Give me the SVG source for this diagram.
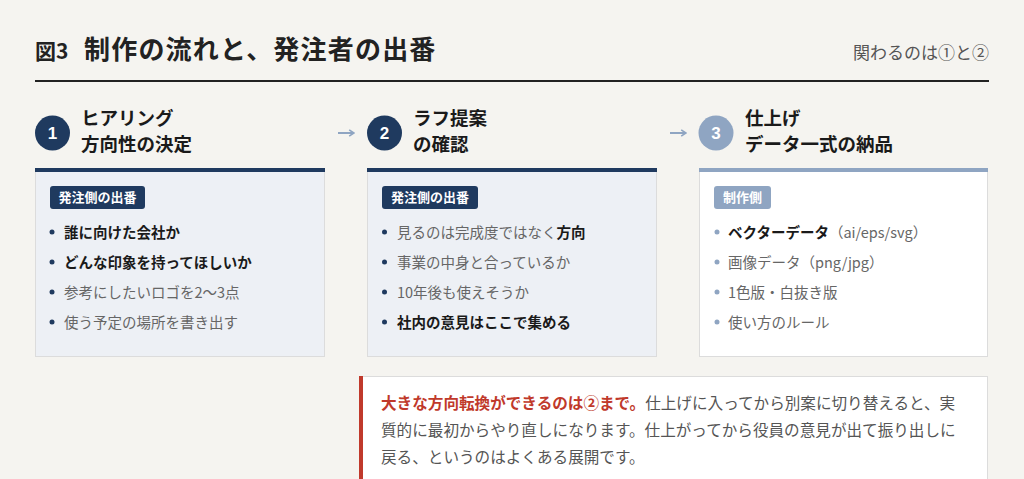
<svg xmlns="http://www.w3.org/2000/svg" width="1024" height="479" viewBox="0 0 1024 479">
<style>
text{font-family:"Noto Sans CJK JP","Noto Sans",sans-serif}
.title{font-size:26px;font-weight:700;fill:#222;letter-spacing:1.2px}
.fig{font-size:21px;font-weight:700;fill:#222}
.aside{font-size:17px;fill:#555}
.step{font-size:18.5px;font-weight:700;fill:#1a1a1a}
.num{font-size:17px;font-weight:700;fill:#fff;text-anchor:middle;font-family:"Liberation Sans",sans-serif}
.badge{font-size:13px;font-weight:700;fill:#fff;text-anchor:middle}
.li{font-size:14.5px;fill:#666}
.b{font-weight:700;fill:#1a1a1a}
.note{font-size:15.6px;fill:#555}
.red{font-weight:700;fill:#c0392b}
.card{stroke:#dcdcdc;stroke-width:1}
.navy{fill:#1f3a5f}
.pale{fill:#8fa5c2}
.conn{stroke:#8fa5c2;stroke-width:2;fill:none;marker-end:url(#ah)}
</style>
<defs>
<marker id="ah" viewBox="0 0 10 10" refX="9" refY="5" markerWidth="4" markerHeight="4" orient="auto" markerUnits="strokeWidth">
<path d="M3,1 L9,5 L3,9" fill="none" stroke="#8fa5c2" stroke-width="2"/>
</marker>
</defs>
<rect width="1024" height="479" fill="#f5f4f0"/>
<g id="header">
<text x="35" y="59" class="fig">図3</text>
<text x="84" y="59" class="title">制作の流れと、発注者の出番</text>
<text x="989" y="59" class="aside" text-anchor="end">関わるのは①と②</text>
<rect x="35" y="80" width="954" height="2" fill="#222"/>
</g>
<g id="connectors">
<path class="conn" d="M338,133 H354"/>
<path class="conn" d="M670,133 H686"/>
</g>
<g id="step1">
<circle cx="52.5" cy="133" r="17.5" class="navy"/>
<text x="52.5" y="139" class="num">1</text>
<text x="81" y="125" class="step">ヒアリング</text>
<text x="81" y="151" class="step">方向性の決定</text>
<rect x="35.5" y="168.5" width="289" height="188" fill="#edf0f5" class="card"/>
<rect x="35" y="168" width="290" height="4" class="navy"/>
<rect x="50" y="186" width="95" height="23" rx="3" class="navy"/>
<text x="97.5" y="202" class="badge">発注側の出番</text>
<circle cx="52" cy="232" r="2.5" class="navy"/>
<circle cx="52" cy="262" r="2.5" class="navy"/>
<circle cx="52" cy="292" r="2.5" class="navy"/>
<circle cx="52" cy="322" r="2.5" class="navy"/>
<text x="64" y="237.5" class="li b">誰に向けた会社か</text>
<text x="64" y="267.5" class="li b">どんな印象を持ってほしいか</text>
<text x="64" y="297.5" class="li">参考にしたいロゴを2〜3点</text>
<text x="64" y="327.5" class="li">使う予定の場所を書き出す</text>
</g>
<g id="step2">
<circle cx="384.5" cy="133" r="17.5" class="navy"/>
<text x="384.5" y="139" class="num">2</text>
<text x="413" y="125" class="step">ラフ提案</text>
<text x="413" y="151" class="step">の確認</text>
<rect x="367.5" y="168.5" width="289" height="188" fill="#edf0f5" class="card"/>
<rect x="367" y="168" width="290" height="4" class="navy"/>
<rect x="382" y="186" width="96" height="23" rx="3" class="navy"/>
<text x="430" y="202" class="badge">発注側の出番</text>
<circle cx="384.5" cy="232" r="2.5" class="navy"/>
<circle cx="384.5" cy="262" r="2.5" class="navy"/>
<circle cx="384.5" cy="292" r="2.5" class="navy"/>
<circle cx="384.5" cy="322" r="2.5" class="navy"/>
<text x="397" y="237.5" class="li">見るのは完成度ではなく<tspan class="b">方向</tspan></text>
<text x="397" y="267.5" class="li">事業の中身と合っているか</text>
<text x="397" y="297.5" class="li">10年後も使えそうか</text>
<text x="397" y="327.5" class="li b">社内の意見はここで集める</text>
</g>
<g id="step3">
<circle cx="716" cy="133" r="17.5" class="pale"/>
<text x="716" y="139" class="num">3</text>
<text x="745" y="125" class="step">仕上げ</text>
<text x="745" y="151" class="step">データ一式の納品</text>
<rect x="699.5" y="168.5" width="288" height="188" fill="#ffffff" class="card"/>
<rect x="699" y="168" width="289" height="4" class="pale"/>
<rect x="714" y="186" width="57" height="23" rx="3" class="pale"/>
<text x="742.5" y="202" class="badge">制作側</text>
<circle cx="717" cy="232" r="2.5" class="pale"/>
<circle cx="717" cy="262" r="2.5" class="pale"/>
<circle cx="717" cy="292" r="2.5" class="pale"/>
<circle cx="717" cy="322" r="2.5" class="pale"/>
<text x="728" y="237.5" class="li"><tspan class="b">ベクターデータ</tspan>（ai/eps/svg）</text>
<text x="728" y="267.5" class="li">画像データ（png/jpg）</text>
<text x="728" y="297.5" class="li">1色版・白抜き版</text>
<text x="728" y="327.5" class="li">使い方のルール</text>
</g>
<g id="note">
<rect x="359.5" y="376.5" width="628" height="120" fill="#ffffff" stroke="#dcdcdc"/>
<rect x="359" y="376" width="4" height="110" fill="#c0392b"/>
<text x="381" y="409" class="note"><tspan class="red">大きな方向転換ができるのは②まで。</tspan>仕上げに入ってから別案に切り替えると、実</text>
<text x="381" y="436" class="note">質的に最初からやり直しになります。仕上がってから役員の意見が出て振り出しに</text>
<text x="381" y="463" class="note">戻る、というのはよくある展開です。</text>
</g>
</svg>
